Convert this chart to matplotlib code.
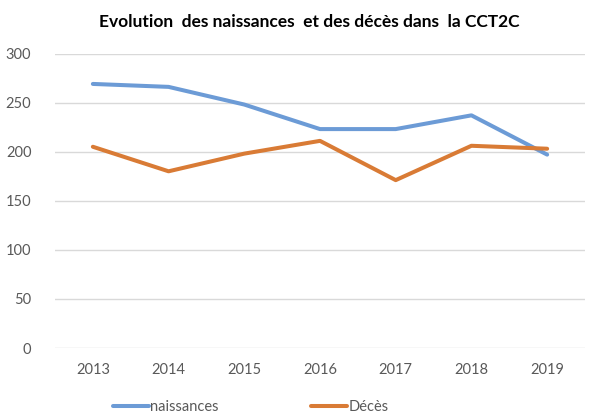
import matplotlib.pyplot as plt

annees = ['2013', '2014', '2015', '2016', '2017', '2018', '2019']
naissances = [269, 266, 248, 223, 223, 237, 197]
deces = [205, 180, 198, 211, 171, 206, 203]
yticks = [0, 50, 100, 150, 200, 250, 300]

plt.rcParams['font.family'] = ['Lato', 'DejaVu Sans']

fig = plt.figure(figsize=(5.97, 4.17), dpi=100)
ax = fig.add_axes([55 / 597, 1 - 348 / 417, 530 / 597, (348 - 53.5) / 417])

x = range(len(annees))
ax.plot(x, naissances, color='#6C9BD6', lw=2.9, label='naissances', solid_capstyle='round')
ax.plot(x, deces, color='#D97B35', lw=2.9, label='Décès', solid_capstyle='round')

ax.set_xlim(-0.5, len(annees) - 0.5)
ax.set_ylim(0, 300)
ax.set_yticks(yticks)
ax.set_xticks(list(x))
ax.set_xticklabels(annees)
ax.grid(axis='y', color='#D9D9D9', lw=1)
ax.set_axisbelow(True)
for s in ax.spines.values():
    s.set_visible(False)
ax.tick_params(length=0, colors='#595959', labelsize=10.5)
ax.tick_params(axis='x', pad=11)
ax.tick_params(axis='y', pad=17)

fig.text(0.518, 1 - 22 / 417, 'Evolution  des naissances  et des décès dans  la CCT2C',
         ha='center', va='center', fontsize=12.5, fontweight='bold', color='#000000')

fig.legend(loc='center', bbox_to_anchor=(0.42, 1 - 407 / 417), ncol=2, frameon=False,
           fontsize=10.5, labelcolor='#595959', handlelength=2.5, handletextpad=0.1,
           columnspacing=6.3)

fig.savefig('out.png', dpi=100)
